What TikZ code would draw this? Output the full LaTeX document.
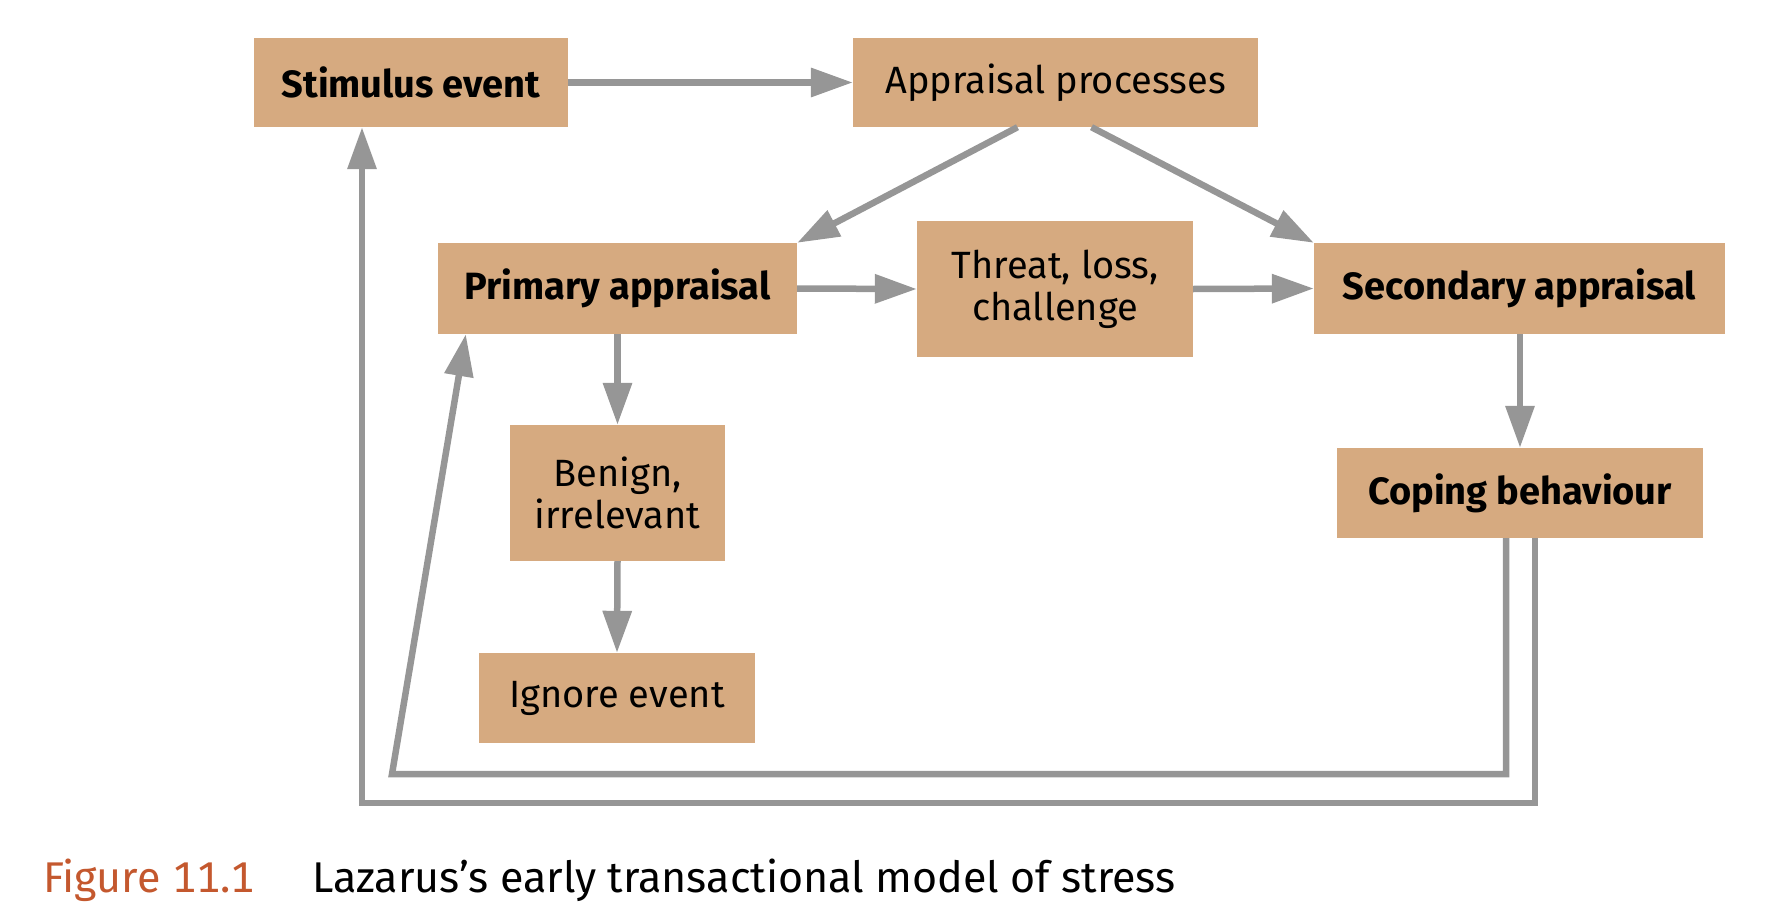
\documentclass[tikz,border=0pt]{standalone}
\usepackage{fontspec}
\setmainfont{Fira Sans}
\usetikzlibrary{arrows.meta,calc}
\definecolor{boxfill}{RGB}{214,170,128}
\definecolor{linegray}{RGB}{150,150,150}
\definecolor{figred}{RGB}{196,88,46}
\tikzset{
  box/.style={fill=boxfill, draw=none, inner sep=0pt, align=center,
    font=\fontsize{38}{42}\selectfont},
  boldbox/.style={box, font=\fontsize{38}{42}\selectfont\bfseries},
  arr/.style={draw=linegray, line width=6.5pt,
    -{Triangle[length=42pt,width=28pt]}},
  captext/.style={anchor=west, inner sep=0pt, font=\fontsize{43}{48}\selectfont}
}
\begin{document}
\begin{tikzpicture}[x=1pt,y=-1pt]
\useasboundingbox (0,0) rectangle (1792,918);
% boxes (centre, width, height in px)
\node[boldbox, minimum width=314pt, minimum height=89pt] (se) at (411,82.5) {Stimulus event};
\node[box, minimum width=405pt, minimum height=89pt] (ap) at (1055.5,82.5) {Appraisal processes};
\node[boldbox, minimum width=359pt, minimum height=91pt] (pa) at (617.5,288.5) {Primary appraisal};
\node[box, minimum width=276pt, minimum height=136pt] (tl) at (1055,289) {Threat, loss,\\challenge};
\node[boldbox, minimum width=411pt, minimum height=91pt] (sa) at (1519.5,288.5) {Secondary appraisal};
\node[box, minimum width=215pt, minimum height=136pt] (bi) at (617.5,493) {Benign,\\irrelevant};
\node[boldbox, minimum width=366pt, minimum height=90pt] (cb) at (1520,493) {Coping behaviour};
\node[box, minimum width=276pt, minimum height=90pt] (ie) at (617,698) {Ignore event};
% feedback corners
\coordinate (fb1) at (392,774);
\coordinate (fb2) at (362,803);
% connectors
\draw[arr] (se.east) -- (ap.west);
\draw[arr] ($(ap.south)+(-38,0)$) -- (pa.north east);
\draw[arr] ($(ap.south)+(36,0)$) -- (sa.north west);
\draw[arr] (pa.east) -- (tl.west);
\draw[arr] (tl.east) -- (sa.west);
\draw[arr] (pa.south) -- (bi.north);
\draw[arr] (bi.south) -- (ie.north);
\draw[arr] (sa.south -| cb.north) -- (cb.north);
\draw[arr, line join=miter] ($(cb.south)+(-14,0)$) |- (fb1) -- ($(pa.south west)+(28,0)$);
\draw[arr, line join=miter] ($(cb.south)+(15,0)$) |- (fb2) -- (se.south -| fb2);
% caption
\node[captext, text=figred] (fig) at (43,880) {\addfontfeature{Numbers=Monospaced}Figure 11.1};
\node[captext] (title) at (312,880) {Lazarus’s early transactional model of stress};
\end{tikzpicture}
\end{document}
